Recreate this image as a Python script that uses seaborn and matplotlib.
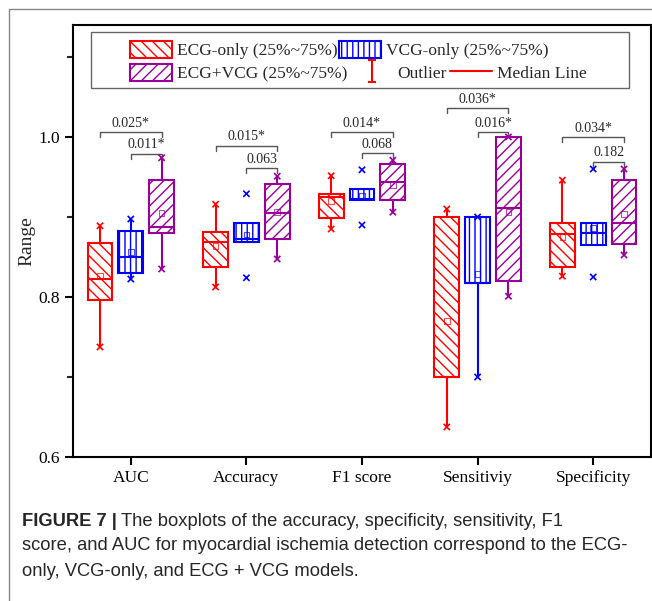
import numpy as np
import pandas as pd
import seaborn as sns
import matplotlib.pyplot as plt
from matplotlib.patches import Patch, Rectangle
from matplotlib.lines import Line2D
from matplotlib.path import Path

METRICS = ["AUC", "Accuracy", "F1 score", "Sensitiviy", "Specificity"]
MODELS = ["ECG-only", "VCG-only", "ECG+VCG"]
COLORS = {"ECG-only": "#ff0000", "VCG-only": "#0000ff", "ECG+VCG": "#990099"}
HATCHES = {"ECG-only": "\\\\\\", "VCG-only": "|||", "ECG+VCG": "///"}

# rows = models (ECG, VCG, ECG+VCG), columns = metrics
Q1 = [
    [0.796, 0.8375, 0.899, 0.700, 0.8375],
    [0.830, 0.869, 0.921, 0.818, 0.865],
    [0.880, 0.8725, 0.921, 0.820, 0.866],
]
MEDIAN = [
    [0.8225, 0.869, 0.925, 0.700, 0.879],
    [0.850, 0.872, 0.923, 0.818, 0.880],
    [0.8875, 0.905, 0.944, 0.911, 0.8925],
]
Q3 = [
    [0.868, 0.881, 0.929, 0.900, 0.8925],
    [0.8825, 0.893, 0.935, 0.900, 0.8925],
    [0.946, 0.941, 0.966, 1.000, 0.946],
]
WHISKER_LO = [
    [0.7375, 0.8125, 0.885, 0.6375, 0.826],
    [0.8225, 0.869, 0.921, 0.700, 0.865],
    [0.835, 0.8475, 0.906, 0.801, 0.8525],
]
WHISKER_HI = [
    [0.889, 0.916, 0.9516, 0.910, 0.946],
    [0.8975, 0.893, 0.935, 0.900, 0.8925],
    [0.974, 0.951, 0.971, 1.000, 0.960],
]
MIN_VAL = [
    [0.7375, 0.8125, 0.885, 0.6375, 0.826],
    [0.8225, 0.824, 0.890, 0.700, 0.825],
    [0.835, 0.8475, 0.906, 0.801, 0.8525],
]
MAX_VAL = [
    [0.889, 0.916, 0.9516, 0.910, 0.946],
    [0.8975, 0.929, 0.959, 0.900, 0.960],
    [0.974, 0.951, 0.971, 1.000, 0.960],
]
MEAN = [
    [0.826, 0.864, 0.920, 0.770, 0.875],
    [0.856, 0.878, 0.927, 0.829, 0.886],
    [0.905, 0.906, 0.940, 0.906, 0.904],
]

# significance brackets: ECG vs ECG+VCG (outer), VCG vs ECG+VCG (inner)
P_OUTER = ["0.025*", "0.015*", "0.014*", "0.036*", "0.034*"]
H_OUTER = [1.006, 0.989, 1.006, 1.036, 1.000]
P_INNER = ["0.011*", "0.063", "0.068", "0.016*", "0.182"]
H_INNER = [0.979, 0.961, 0.980, 1.006, 0.969]


def long_table(stat_lists):
    rows = []
    for m, model in enumerate(MODELS):
        for k, metric in enumerate(METRICS):
            for stat in stat_lists:
                rows.append({"metric": metric, "model": model, "value": stat[m][k]})
    return pd.DataFrame(rows)


sns.set_style("ticks")
plt.rcParams["font.family"] = ["Liberation Serif"]
plt.rcParams["hatch.linewidth"] = 1.0

fig = plt.figure(figsize=(6.52, 6.01), dpi=100)
ax = fig.add_axes([73 / 652, 1 - 457 / 601, 578 / 652, 432 / 601])

box_df = long_table([WHISKER_LO, Q1, MEDIAN, Q3, WHISKER_HI])
for model in MODELS:
    sns.boxplot(data=box_df[box_df["model"] == model], x="metric", y="value",
                hue="model", order=METRICS, hue_order=MODELS, palette=COLORS,
                dodge=True, linecolor=COLORS[model], whis=(0, 100), showcaps=False,
                width=0.8, gap=0.2, linewidth=1.5, legend=False,
                boxprops=dict(facecolor="white", hatch=HATCHES[model]), ax=ax)

ext_df = long_table([MIN_VAL, MAX_VAL])
sns.stripplot(data=ext_df, x="metric", y="value", hue="model", order=METRICS,
              hue_order=MODELS, palette=COLORS, dodge=True, jitter=False,
              marker="x", size=4.5, linewidth=1.2, legend=False, zorder=4, ax=ax)

n_before = len(ax.collections)
mean_df = long_table([MEAN])
sns.stripplot(data=mean_df, x="metric", y="value", hue="model", order=METRICS,
              hue_order=MODELS, palette=COLORS, dodge=True, jitter=False,
              marker="s", size=4, legend=False, zorder=4, ax=ax)
for coll in ax.collections[n_before:]:
    fc = coll.get_facecolors()
    coll.set_edgecolors(fc)
    coll.set_facecolors("none")
    coll.set_linewidths(0.8)
    coll.set_alpha(0.7)

# brackets
off = 0.8 / 3
for k in range(len(METRICS)):
    for x0, h, lab in [(k - off, H_OUTER[k], P_OUTER[k]), (k, H_INNER[k], P_INNER[k])]:
        x1 = k + off
        ax.plot([x0, x0, x1, x1], [h - 0.006, h, h, h - 0.006], color="#555555", lw=1)
        ax.text((x0 + x1) / 2, h + 0.003, lab, ha="center", va="bottom", fontsize=10)

ax.set_xlim(-0.5, 4.5)
ax.set_ylim(0.6, 1.14)
ax.set_yticks([0.6, 0.8, 1.0])
ax.set_yticklabels(["0.6", "0.8", "1.0"])
ax.set_yticks([0.7, 0.9, 1.1], minor=True)
ax.set_xlabel("")
ax.set_ylabel("Range", fontsize=14, labelpad=2)
ax.tick_params(axis="both", which="major", direction="out", length=6, width=1.5,
               labelsize=12.5, colors="black")
ax.tick_params(axis="y", which="minor", direction="out", length=4, width=1.5)
for side in ["left", "right", "top", "bottom"]:
    ax.spines[side].set_visible(True)
    ax.spines[side].set_linewidth(1.5)
    ax.spines[side].set_color("black")

# legend
ecg_h = Patch(facecolor="white", edgecolor=COLORS["ECG-only"], hatch=HATCHES["ECG-only"], lw=1.5)
vcg_h = Patch(facecolor="white", edgecolor=COLORS["VCG-only"], hatch=HATCHES["VCG-only"], lw=1.5)
both_h = Patch(facecolor="white", edgecolor=COLORS["ECG+VCG"], hatch=HATCHES["ECG+VCG"], lw=1.5)
ibeam = Path([(-0.4, 1), (0.4, 1), (0, 1), (0, -1), (-0.4, -1), (0.4, -1)],
             [Path.MOVETO, Path.LINETO, Path.MOVETO, Path.LINETO, Path.MOVETO, Path.LINETO])
out_h = Line2D([], [], color="red", marker=ibeam, markersize=16, linestyle="none",
               markerfacecolor="none", markeredgewidth=1.5)
med_h = Line2D([], [], color="red", lw=1.5)

common = dict(frameon=False, fontsize=12.5, handlelength=2.4, handleheight=1.1,
              handletextpad=0.3, borderpad=0, borderaxespad=0, loc="center left")
leg1 = ax.legend([ecg_h, vcg_h], ["ECG-only (25%~75%)", "VCG-only (25%~75%)"],
                 ncol=2, columnspacing=0.1, bbox_to_anchor=(57 / 578, (457 - 50) / 432), **common)
ax.add_artist(leg1)
ax.legend([both_h, out_h, med_h], ["ECG+VCG (25%~75%)", "Outlier", "Median Line"],
          ncol=3, columnspacing=0.2, bbox_to_anchor=(57 / 578, (457 - 73) / 432), **common)
ax.add_patch(Rectangle((18 / 578, (457 - 88) / 432), 538 / 578, 56 / 432,
                       transform=ax.transAxes, fill=False, edgecolor="#666666", lw=1, zorder=5))

# outer frame of the figure panel
fig.add_artist(Line2D([9 / 652, 9 / 652], [0, 1 - 9 / 601], transform=fig.transFigure,
                      color="#888888", lw=1))
fig.add_artist(Line2D([9 / 652, 1], [1 - 9 / 601, 1 - 9 / 601], transform=fig.transFigure,
                      color="#888888", lw=1))

# caption
cap_font = ["Liberation Sans", "DejaVu Sans"]
renderer = fig.canvas.get_renderer()
t = fig.text(22 / 652, 1 - 521 / 601, "FIGURE 7 |", fontsize=13.2, weight="bold",
             family=cap_font, va="center")
bb = t.get_window_extent(renderer)
fig.text(bb.x1 / 652 + 4 / 652, 1 - 521 / 601,
         "The boxplots of the accuracy, specificity, sensitivity, F1",
         fontsize=13.2, family=cap_font, va="center")
fig.text(22 / 652, 1 - 546 / 601,
         "score, and AUC for myocardial ischemia detection correspond to the ECG-",
         fontsize=13.2, family=cap_font, va="center")
fig.text(22 / 652, 1 - 571 / 601, "only, VCG-only, and ECG + VCG models.",
         fontsize=13.2, family=cap_font, va="center")

fig.savefig("out.png", dpi=100)
